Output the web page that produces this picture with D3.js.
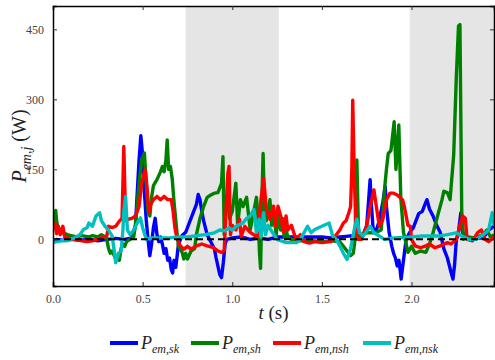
<!DOCTYPE html>
<html>
<head>
<meta charset="utf-8">
<script src="https://cdn.jsdelivr.net/npm/d3@7"></script>
<style>
  body { margin: 0; background: #fff; }
  text { font-family: 'Liberation Serif', 'DejaVu Serif', serif; }
</style>
</head>
<body>
<svg></svg>
<script>
// [t (s), P (W)]
const skData = [[0,-5],[0.02,0],[0.05,-2],[0.1,0],[0.15,-2],[0.2,0],[0.25,-3],[0.3,0],[0.35,2],[0.4,0],[0.44,3],[0.46,30],[0.47,100],[0.48,170],[0.49,222],[0.5,180],[0.51,100],[0.52,42],[0.53,0],[0.54,-35],[0.55,-10],[0.56,25],[0.57,45],[0.58,10],[0.59,-5],[0.6,5],[0.61,-10],[0.62,-30],[0.63,-20],[0.64,-45],[0.65,-40],[0.66,-65],[0.667,-72],[0.675,-45],[0.685,-60],[0.7,-10],[0.72,8],[0.74,15],[0.76,35],[0.78,55],[0.8,75],[0.81,96],[0.82,85],[0.83,60],[0.84,40],[0.86,10],[0.88,-5],[0.9,-20],[0.91,-40],[0.93,-75],[0.94,-82],[0.95,-50],[0.96,-10],[0.97,0],[1.0,3],[1.05,5],[1.1,0],[1.15,3],[1.2,0],[1.25,5],[1.3,5],[1.4,5],[1.5,5],[1.55,3],[1.6,5],[1.65,7],[1.7,8],[1.73,10],[1.75,30],[1.76,80],[1.769,128],[1.775,80],[1.785,25],[1.8,15],[1.82,40],[1.84,80],[1.853,113],[1.86,70],[1.875,15],[1.89,-15],[1.9,-30],[1.91,-40],[1.92,-57],[1.93,-45],[1.942,-85],[1.955,-45],[1.97,0],[1.99,15],[2.01,25],[2.04,55],[2.06,60],[2.075,75],[2.086,85],[2.1,65],[2.12,50],[2.14,30],[2.16,15],[2.18,-20],[2.2,-40],[2.21,-55],[2.22,-70],[2.231,-85],[2.24,-55],[2.25,0],[2.26,10],[2.275,57],[2.285,15],[2.3,5],[2.35,3],[2.4,3],[2.43,20],[2.46,28]];

const shData = [[0,20],[0.01,45],[0.015,62],[0.02,40],[0.03,20],[0.05,15],[0.08,10],[0.1,8],[0.13,5],[0.16,8],[0.2,5],[0.22,8],[0.25,5],[0.27,10],[0.29,5],[0.3,0],[0.31,-20],[0.32,-30],[0.33,-25],[0.35,-42],[0.36,-35],[0.37,-45],[0.38,-20],[0.39,-10],[0.4,-15],[0.41,-5],[0.43,0],[0.45,5],[0.46,30],[0.48,120],[0.495,170],[0.51,185],[0.52,120],[0.53,60],[0.54,50],[0.55,90],[0.56,115],[0.58,128],[0.6,145],[0.61,156],[0.62,145],[0.63,170],[0.637,213],[0.645,150],[0.655,156],[0.665,130],[0.675,80],[0.69,20],[0.7,-15],[0.72,-28],[0.73,-42],[0.74,-30],[0.75,-42],[0.77,-25],[0.79,-20],[0.8,10],[0.82,45],[0.84,70],[0.86,90],[0.88,95],[0.9,99],[0.92,100],[0.94,120],[0.948,177],[0.955,10],[0.962,65],[0.97,92],[0.985,45],[1.0,60],[1.02,120],[1.03,30],[1.045,85],[1.06,70],[1.08,90],[1.1,20],[1.12,60],[1.135,90],[1.145,40],[1.152,-30],[1.158,-62],[1.165,80],[1.172,184],[1.18,60],[1.19,40],[1.21,85],[1.22,30],[1.235,50],[1.245,10],[1.255,50],[1.27,20],[1.28,45],[1.29,5],[1.3,20],[1.31,5],[1.33,0],[1.38,-3],[1.45,-3],[1.5,-5],[1.55,-3],[1.6,-5],[1.62,-15],[1.64,-25],[1.66,-35],[1.675,-30],[1.685,0],[1.695,170],[1.705,0],[1.72,10],[1.75,14],[1.8,14],[1.83,20],[1.84,57],[1.85,110],[1.86,150],[1.87,184],[1.885,190],[1.903,252],[1.913,150],[1.929,245],[1.94,90],[1.955,15],[1.97,-10],[1.98,-28],[2.0,-15],[2.02,-30],[2.05,-25],[2.08,-28],[2.1,-10],[2.12,14],[2.15,57],[2.17,85],[2.18,103],[2.2,100],[2.215,85],[2.235,180],[2.25,350],[2.262,457],[2.27,460],[2.28,60],[2.29,0],[2.3,5],[2.35,3],[2.4,10],[2.42,20],[2.44,5],[2.46,10]];

const nshData = [[0,28],[0.01,35],[0.02,12],[0.03,28],[0.04,10],[0.055,28],[0.065,5],[0.08,5],[0.1,0],[0.13,0],[0.16,-3],[0.19,-5],[0.22,-3],[0.25,0],[0.28,5],[0.3,7],[0.31,28],[0.33,25],[0.35,28],[0.37,39],[0.385,45],[0.39,120],[0.395,199],[0.4,120],[0.405,40],[0.42,43],[0.44,45],[0.46,50],[0.47,60],[0.48,71],[0.495,120],[0.507,140],[0.515,149],[0.525,110],[0.535,57],[0.545,75],[0.56,85],[0.58,92],[0.6,85],[0.62,92],[0.64,85],[0.66,85],[0.67,60],[0.68,25],[0.69,5],[0.71,-14],[0.73,-21],[0.75,-15],[0.77,-21],[0.8,-14],[0.83,-10],[0.86,-14],[0.89,-17],[0.92,-25],[0.94,-28],[0.955,-25],[0.965,60],[0.975,140],[0.982,156],[0.99,10],[1.0,30],[1.02,20],[1.04,43],[1.05,7],[1.07,28],[1.1,15],[1.14,5],[1.16,85],[1.175,131],[1.19,65],[1.21,43],[1.23,71],[1.24,28],[1.255,71],[1.27,50],[1.285,15],[1.3,50],[1.31,20],[1.33,30],[1.355,0],[1.38,10],[1.4,-5],[1.43,-8],[1.46,-5],[1.5,-7],[1.55,-5],[1.58,10],[1.6,20],[1.62,35],[1.635,40],[1.65,57],[1.66,70],[1.667,150],[1.672,298],[1.68,150],[1.69,14],[1.7,0],[1.72,0],[1.75,28],[1.77,71],[1.79,106],[1.8,80],[1.82,28],[1.84,43],[1.86,85],[1.88,99],[1.9,99],[1.92,95],[1.95,85],[1.96,70],[1.98,30],[1.993,28],[2.0,0],[2.02,-14],[2.05,-18],[2.08,-14],[2.1,-10],[2.13,-18],[2.16,-14],[2.2,-7],[2.22,-10],[2.25,0],[2.27,30],[2.285,50],[2.3,45],[2.31,0],[2.34,-3],[2.37,15],[2.39,20],[2.41,0],[2.43,-5],[2.46,5]];

const nskData = [[0,-7],[0.02,-5],[0.05,-3],[0.08,-3],[0.1,0],[0.13,5],[0.15,10],[0.17,21],[0.19,25],[0.2,35],[0.22,28],[0.24,50],[0.26,57],[0.27,40],[0.29,28],[0.31,20],[0.33,7],[0.34,-20],[0.35,-50],[0.365,-30],[0.38,-25],[0.39,20],[0.395,60],[0.405,92],[0.415,20],[0.43,10],[0.45,20],[0.47,35],[0.488,46],[0.5,25],[0.52,0],[0.55,3],[0.6,3],[0.65,3],[0.7,5],[0.75,5],[0.8,8],[0.85,10],[0.9,14],[0.93,20],[0.96,18],[0.98,25],[1.0,20],[1.03,30],[1.06,35],[1.08,45],[1.1,50],[1.12,64],[1.135,15],[1.15,43],[1.16,5],[1.175,57],[1.185,10],[1.2,30],[1.215,20],[1.25,0],[1.3,-7],[1.36,-7],[1.38,0],[1.4,14],[1.42,28],[1.44,14],[1.46,21],[1.5,28],[1.54,35],[1.56,7],[1.58,0],[1.6,-14],[1.62,-30],[1.64,-43],[1.66,-20],[1.68,20],[1.695,43],[1.71,14],[1.73,7],[1.77,28],[1.79,14],[1.82,7],[1.85,0],[1.9,3],[1.95,4],[2.0,5],[2.05,7],[2.1,7],[2.15,7],[2.2,10],[2.25,14],[2.28,7],[2.32,0],[2.36,0],[2.4,10],[2.43,20],[2.45,57],[2.46,30]];

const seriesNames = ['sk', 'sh', 'nsh', 'nsk'];
const seriesColors = ['#0000ff', '#008000', '#ff0000', '#00bfbf'];
const shadedSpans = [[0.74, 1.26], [1.99, 2.46]];
const xTicks = [0, 0.5, 1.0, 1.5, 2.0];
const yTicks = [0, 150, 300, 450];

const width = 495;
const height = 360;
const margin = { top: 6, right: 1, bottom: 74, left: 53 };
const w = width - margin.left - margin.right;
const h = height - margin.top - margin.bottom;

const svg = d3.select('svg')
  .attr('width', width)
  .attr('height', height);

const chart = svg.append('g')
  .attr('transform', `translate(${margin.left}, ${margin.top})`);

const xScale = d3.scaleLinear().domain([0, 2.46]).range([0, w]);
const yScale = d3.scaleLinear().domain([-100, 500]).range([h, 0]);

// shaded phases
chart.selectAll('.span')
  .data(shadedSpans)
  .enter()
  .append('rect')
  .attr('x', d => xScale(d[0]))
  .attr('y', 0)
  .attr('width', d => xScale(d[1]) - xScale(d[0]))
  .attr('height', h)
  .attr('fill', '#e5e5e5');

chart.append('clipPath').attr('id', 'clip')
  .append('rect').attr('width', w).attr('height', h);

const line = d3.line()
  .x(d => xScale(d[0]))
  .y(d => yScale(d[1]));

const allSeries = [skData, shData, nshData, nskData];

chart.append('g')
  .attr('clip-path', 'url(#clip)')
  .selectAll('path')
  .data(allSeries)
  .enter()
  .append('path')
  .attr('d', line)
  .attr('fill', 'none')
  .attr('stroke', (d, i) => seriesColors[i])
  .attr('stroke-width', 3.4)
  .attr('stroke-linejoin', 'round');

// zero line
chart.append('line')
  .attr('x1', 0)
  .attr('x2', w)
  .attr('y1', yScale(0))
  .attr('y2', yScale(0))
  .attr('stroke', '#000')
  .attr('stroke-width', 2)
  .attr('stroke-dasharray', '7,4');

// axes, ticks inside on all sides
const tickFmt = d3.format('.1f');
chart.append('g')
  .attr('class', 'axis')
  .attr('transform', `translate(0, ${h})`)
  .call(d3.axisBottom(xScale).tickValues(xTicks).tickSize(-4).tickPadding(8).tickFormat(tickFmt));
chart.append('g')
  .attr('class', 'axis')
  .call(d3.axisTop(xScale).tickValues(xTicks).tickSize(-4).tickFormat(''));
chart.append('g')
  .attr('class', 'axis')
  .call(d3.axisLeft(yScale).tickValues(yTicks).tickSize(-4).tickPadding(9));
chart.append('g')
  .attr('class', 'axis')
  .attr('transform', `translate(${w}, 0)`)
  .call(d3.axisRight(yScale).tickValues(yTicks).tickSize(-4).tickFormat(''));

chart.selectAll('.axis path.domain').attr('stroke', '#000').attr('stroke-width', 1.5);
chart.selectAll('.axis .tick line').attr('stroke', '#333').attr('stroke-width', 1);
chart.selectAll('.axis text')
  .attr('font-family', "'Liberation Serif', serif")
  .attr('font-size', 12)
  .attr('fill', '#444');

// x title
const xt = svg.append('text')
  .attr('x', margin.left + w / 2)
  .attr('y', 319)
  .attr('text-anchor', 'middle')
  .attr('font-size', 19)
  .attr('fill', '#222');
xt.append('tspan').attr('font-style', 'italic').text('t');
xt.append('tspan').text(' (s)');

// y title
const yt = svg.append('text')
  .attr('transform', `translate(26, ${margin.top + h / 2}) rotate(-90)`)
  .attr('text-anchor', 'middle')
  .attr('font-size', 20)
  .attr('fill', '#222');
yt.append('tspan').attr('font-style', 'italic').text('P');
yt.append('tspan').attr('font-style', 'italic').attr('font-size', 14).attr('dy', 5).text('em,j');
yt.append('tspan').attr('dy', -5).text(' (W)');

// legend
const legendX = [110, 191, 273, 363];
const subs = ['em,sk', 'em,sh', 'em,nsh', 'em,nsk'];
const legend = svg.append('g').attr('class', 'legend');
seriesNames.forEach((name, i) => {
  const g = legend.append('g').attr('transform', `translate(${legendX[i]}, 343)`);
  g.append('line')
    .attr('x1', 0).attr('x2', 28)
    .attr('y1', 0).attr('y2', 0)
    .attr('stroke', seriesColors[i])
    .attr('stroke-width', 4);
  const t = g.append('text')
    .attr('x', 31)
    .attr('y', 6)
    .attr('font-size', 18)
    .attr('fill', '#222');
  t.append('tspan').attr('font-style', 'italic').text('P');
  t.append('tspan').attr('font-style', 'italic').attr('font-size', 12).attr('dy', 4).text(subs[i]);
});
</script>
</body>
</html>
